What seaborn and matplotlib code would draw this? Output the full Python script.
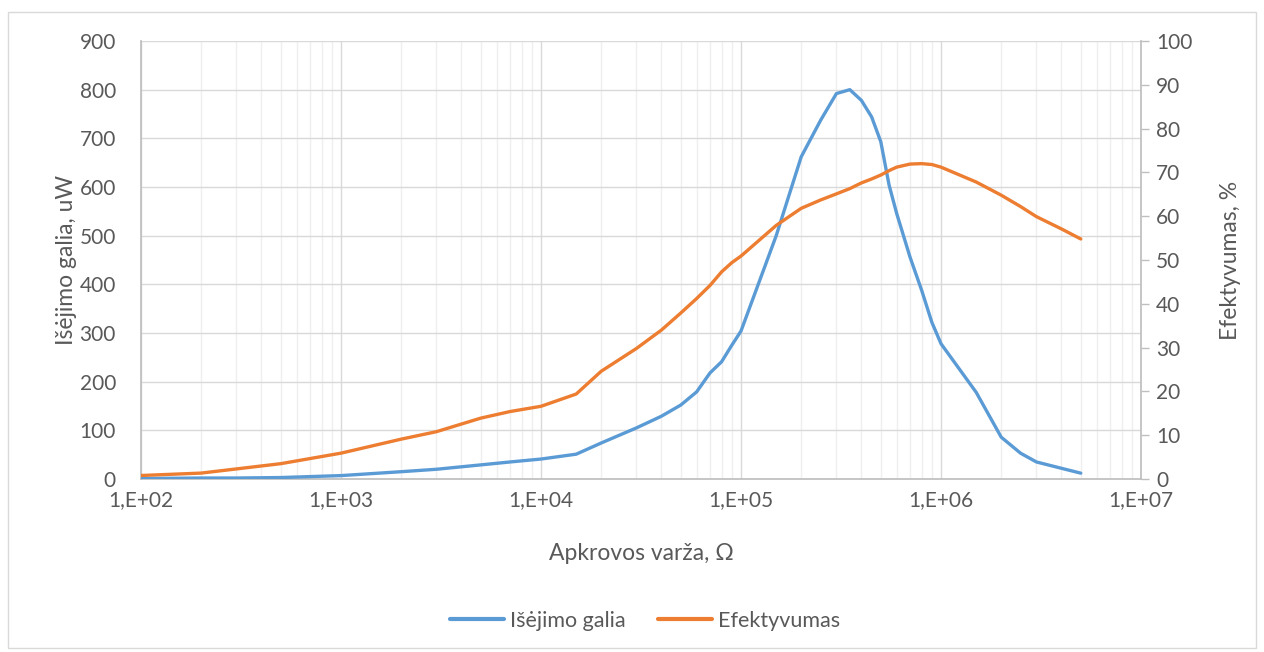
import math
import matplotlib
matplotlib.use("Agg")
import matplotlib.pyplot as plt
from matplotlib.ticker import FixedLocator, FuncFormatter, LogLocator, NullFormatter
from matplotlib.patches import Rectangle
from matplotlib.lines import Line2D
import seaborn as sns
import pandas as pd

# Load resistance (Ohm)
resistance = [100, 200, 300, 500, 1000, 2000, 3000, 5000, 7000, 10000,
              15000, 20000, 30000, 40000, 50000, 60000, 70000, 80000, 90000, 100000,
              150000, 200000, 250000, 300000, 350000, 400000, 450000, 500000, 550000, 600000,
              700000, 800000, 900000, 1000000, 1500000, 2000000, 2500000, 3000000, 4000000, 5000000]
# Output power, uW
power = [1, 2, 2, 3, 7, 15, 20, 29, 35, 41,
         51, 74, 105, 129, 152, 179, 218, 241, 275, 304,
         500, 662, 737, 792, 800, 778, 744, 693, 604, 546,
         456, 388, 322, 278, 178, 86, 53, 35, 22, 12]
# Efficiency, %
efficiency = [0.8, 1.35, 2.3, 3.5, 5.9, 9.1, 10.8, 13.9, 15.4, 16.6,
              19.4, 24.6, 29.8, 34.0, 37.9, 41.2, 44.2, 47.3, 49.4, 50.9,
              57.9, 61.8, 63.7, 65.1, 66.3, 67.6, 68.5, 69.4, 70.4, 71.2,
              71.9, 72.0, 71.8, 71.2, 67.8, 64.8, 62.2, 59.9, 57.1, 54.8]

power_label = "Išėjimo galia"
eff_label = "Efektyvumas"
x_title = "Apkrovos varža, Ω"
y_left_title = "Išėjimo galia, uW"
y_right_title = "Efektyvumas, %"

df = pd.DataFrame({"R": resistance, "P": power, "E": efficiency})

sns.set_theme(style="white")
plt.rcParams["font.family"] = ["Lato", "DejaVu Sans"]

BLUE = "#5B9BD5"
ORANGE = "#ED7D31"
TEXT = "#595959"
GRID = "#d9d9d9"
MINOR = "#efefef"
SPINE = "#bfbfbf"

fig = plt.figure(figsize=(12.64, 6.52), dpi=100)
fig.patch.set_facecolor("white")
ax = fig.add_axes([141 / 1264, 1 - 479 / 652, 1000 / 1264, 438 / 652])
ax2 = ax.twinx()

sns.lineplot(data=df, x="R", y="P", ax=ax, color=BLUE, linewidth=2.4, zorder=3)
sns.lineplot(data=df, x="R", y="E", ax=ax2, color=ORANGE, linewidth=2.4, zorder=3)

ax.set_xscale("log")
ax.set_xlim(1e2, 1e7)
ax.set_ylim(0, 900)
ax2.set_ylim(0, 100)

ax.xaxis.set_major_locator(FixedLocator([1e2, 1e3, 1e4, 1e5, 1e6, 1e7]))
ax.xaxis.set_major_formatter(FuncFormatter(lambda v, p: "1,E+%02d" % round(math.log10(v))))
ax.xaxis.set_minor_locator(LogLocator(base=10, subs=range(2, 10), numticks=50))
ax.xaxis.set_minor_formatter(NullFormatter())
ax.yaxis.set_major_locator(FixedLocator(range(0, 901, 100)))
ax2.yaxis.set_major_locator(FixedLocator(range(0, 101, 10)))

ax.grid(True, which="major", axis="both", color=GRID, linewidth=1.0, zorder=0)
ax.grid(True, which="minor", axis="x", color=MINOR, linewidth=1.0, zorder=0)
ax.set_axisbelow(True)

for a in (ax, ax2):
    for s in a.spines.values():
        s.set_visible(False)
ax.spines["left"].set_visible(True)
ax.spines["left"].set_color(SPINE)
ax.spines["bottom"].set_visible(True)
ax.spines["bottom"].set_color(SPINE)
ax2.spines["right"].set_visible(True)
ax2.spines["right"].set_color(SPINE)

ax.tick_params(axis="both", which="both", length=0, labelsize=15, labelcolor=TEXT, pad=8)
ax.tick_params(axis="y", pad=18)
ax2.tick_params(axis="y", which="major", length=6, width=1, color=SPINE,
                labelsize=15, labelcolor=TEXT, pad=5, direction="out")

ax.set_xlabel(x_title, fontsize=16.5, color=TEXT, labelpad=24)
ax.set_ylabel(y_left_title, fontsize=16.5, color=TEXT, labelpad=2)
ax2.set_ylabel(y_right_title, fontsize=16.5, color=TEXT, labelpad=20)

handles = [Line2D([0], [0], color=BLUE, linewidth=3),
           Line2D([0], [0], color=ORANGE, linewidth=3)]
fig.legend(handles, [power_label, eff_label], loc="center", ncol=2,
           bbox_to_anchor=(645 / 1264, 1 - 621 / 652), frameon=False, fontsize=15.5,
           labelcolor=TEXT, handlelength=2.5, handletextpad=0.3, columnspacing=1.5)

fig.patches.append(Rectangle((8 / 1264, 4 / 652), 1248 / 1264, 636 / 652,
                             transform=fig.transFigure, fill=False,
                             edgecolor="#d9d9d9", linewidth=1.0))

fig.savefig("out.png", dpi=100)
